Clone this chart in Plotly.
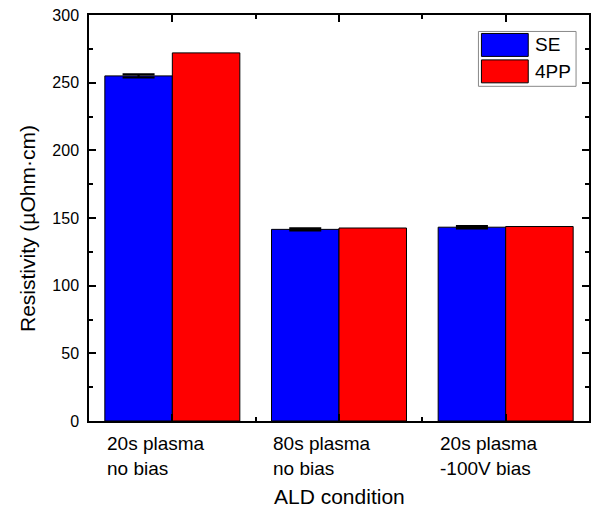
import plotly.graph_objects as go

categories = ["20s plasma<br>no bias", "80s plasma<br>no bias", "20s plasma<br>-100V bias"]
se_values = [255.0, 141.6, 143.2]
se_errors = [1.2, 0.8, 0.8]
pp_values = [272.0, 142.6, 143.7]
y_ticks = [0, 50, 100, 150, 200, 250, 300]

positions = list(range(1, len(categories) + 1))

W, H = 597, 512
L, R, T, B = 89, 591, 14.5, 421.5


def px(X):
    return (X - L) / (R - L)


def py(Y):
    return (B - Y) / (B - T)


FONT = "Liberation Sans, Arial, sans-serif"

fig = go.Figure()
fig.add_trace(go.Bar(
    x=positions, y=se_values, name="SE",
    marker=dict(color="#0000FF", line=dict(color="black", width=1)),
    error_y=dict(type="data", array=se_errors, visible=True, color="black", thickness=2.2, width=16),
    showlegend=False,
))
fig.add_trace(go.Bar(
    x=positions, y=pp_values, name="4PP",
    marker=dict(color="#FF0000", line=dict(color="black", width=1)),
    showlegend=False,
))

fig.update_layout(
    width=W, height=H,
    margin=dict(l=L, r=W - R, t=T, b=H - B, pad=0),
    paper_bgcolor="white", plot_bgcolor="white",
    barmode="group", bargap=0.19, bargroupgap=0,
    font=dict(family=FONT, color="black"),
)

fig.update_xaxes(
    range=[0.5, len(categories) + 0.5],
    tickmode="array", tickvals=positions, showticklabels=False,
    ticks="inside", ticklen=7, tickwidth=1.5, tickcolor="black",
    showline=True, linecolor="black", linewidth=1.5, mirror="ticks",
    showgrid=False, zeroline=False,
    minor=dict(tickmode="array", tickvals=[p + 0.5 for p in positions[:-1]],
               ticks="inside", ticklen=4, tickwidth=1.5, tickcolor="black", showgrid=False),
)
fig.update_yaxes(
    range=[0, 300],
    tickmode="array", tickvals=y_ticks,
    tickfont=dict(size=16, family=FONT, color="black"),
    ticklabelstandoff=5,
    ticks="inside", ticklen=7, tickwidth=1.5, tickcolor="black",
    showline=True, linecolor="black", linewidth=1.5, mirror="ticks",
    showgrid=False, zeroline=False,
    minor=dict(dtick=25, ticks="inside", ticklen=4, tickwidth=1.5, tickcolor="black", showgrid=False),
)

# category labels (left-aligned, multi-line)
for pos, cat in zip(positions, categories):
    fig.add_annotation(
        x=pos - 0.4, y=0, xref="x", yref="paper",
        text=cat, showarrow=False, xanchor="left", yanchor="top", align="left",
        yshift=-10, xshift=-1,
        font=dict(size=19, family=FONT, color="black"),
    )

# axis titles
fig.add_annotation(
    x=0.5, y=0, xref="paper", yref="paper", text="ALD condition",
    showarrow=False, xanchor="center", yanchor="middle", yshift=-(497 - B),
    font=dict(size=21, family=FONT, color="black"),
)
fig.add_annotation(
    x=0, y=0.5, xref="paper", yref="paper", text="Resistivity (µOhm·cm)",
    showarrow=False, textangle=-90, xanchor="center", yanchor="middle",
    xshift=-(L - 27), yshift=-11,
    font=dict(size=21, family=FONT, color="black"),
)

# legend box drawn manually
fig.add_shape(type="rect", xref="paper", yref="paper",
              x0=px(480), x1=px(578), y0=py(86), y1=py(31),
              line=dict(color="#888888", width=1), fillcolor="white")
fig.add_shape(type="rect", xref="paper", yref="paper",
              x0=px(483), x1=px(530), y0=py(56), y1=py(33),
              line=dict(color="black", width=1), fillcolor="#0000FF")
fig.add_shape(type="rect", xref="paper", yref="paper",
              x0=px(483), x1=px(530), y0=py(82.5), y1=py(59.5),
              line=dict(color="black", width=1), fillcolor="#FF0000")
for label, yc in [("SE", 44.5), ("4PP", 71)]:
    fig.add_annotation(x=px(535), y=py(yc), xref="paper", yref="paper", text=label,
                       showarrow=False, xanchor="left", yanchor="middle",
                       font=dict(size=19, family=FONT, color="black"))

fig.write_html("out.html", config={"displayModeBar": False},
               post_script="document.body.style.margin='0';document.body.style.overflow='hidden';")
